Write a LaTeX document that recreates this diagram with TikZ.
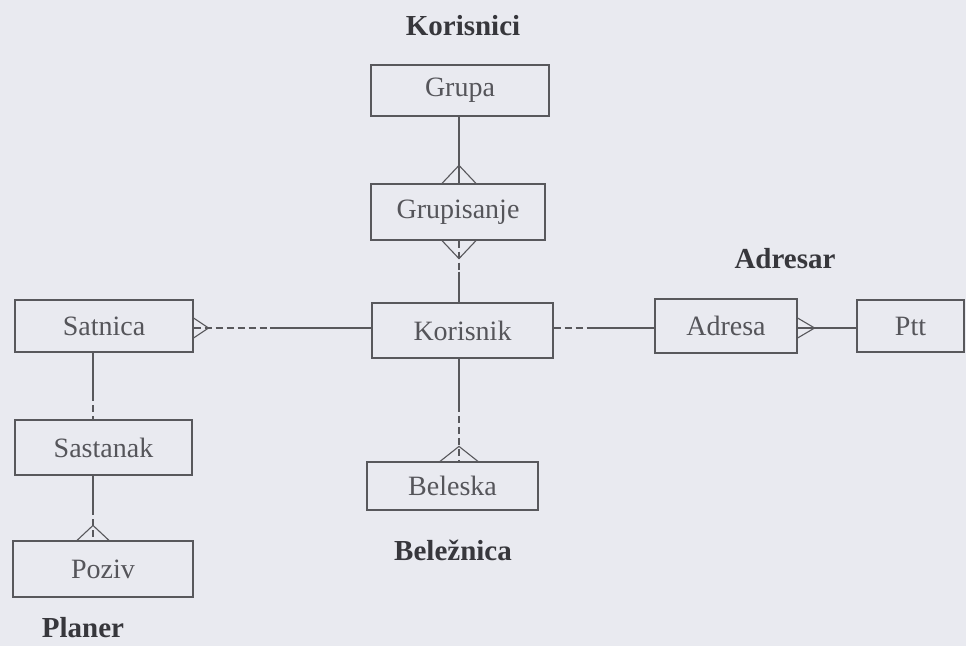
\documentclass[tikz,border=0pt]{standalone}
\usepackage{fontspec}
\setmainfont{Liberation Serif}
\usetikzlibrary{calc}
\definecolor{bg}{RGB}{233,234,240}
\definecolor{ink}{RGB}{88,88,92}
\definecolor{txt}{RGB}{85,85,90}
\definecolor{lbl}{RGB}{55,55,60}
\begin{document}
\begin{tikzpicture}[x=1pt,y=-1pt,
  entity/.style={draw=ink,line width=1.2pt,inner sep=0pt,text=txt,
    font=\fontsize{28}{32}\selectfont},
  grp/.style={text=lbl,font=\bfseries\fontsize{29}{33}\selectfont,anchor=base,inner sep=0pt},
  rel/.style={draw=ink,line width=1.1pt},
  reldash/.style={draw=ink,line width=1.1pt,dash pattern=on 7pt off 4pt}]
\fill[bg] (0,0) rectangle (966,646);
\useasboundingbox (0,0) rectangle (966,646);

% entities
\node[entity,minimum width=178pt,minimum height=51pt] (grupa) at (460,90.5) {Grupa};
\node[entity,minimum width=174pt,minimum height=56pt] (grupisanje) at (458,212) {Grupisanje};
\node[entity,minimum width=181pt,minimum height=55pt] (korisnik) at (462.5,330.5) {Korisnik};
\node[entity,minimum width=171pt,minimum height=48pt] (beleska) at (452.5,486) {Beleska};
\node[entity,minimum width=178pt,minimum height=52pt] (satnica) at (104,326) {Satnica};
\node[entity,minimum width=177pt,minimum height=55pt] (sastanak) at (103.5,447.5) {Sastanak};
\node[entity,minimum width=180pt,minimum height=56pt] (poziv) at (103,569) {Poziv};
\node[entity,minimum width=142pt,minimum height=54pt] (adresa) at (726,326) {Adresa};
\node[entity,minimum width=107pt,minimum height=52pt] (ptt) at (910.5,326) {Ptt};

% group labels
\node[grp] (lkorisnici) at (463,35) {Korisnici};
\node[grp] (ladresar) at (785,268) {Adresar};
\node[grp] (lbeleznica) at (453,560) {Beležnica};
\node[grp] (lplaner) at (83,637) {Planer};

% guide coordinates
\coordinate (vx1) at (459,0);
\coordinate (vx2) at (93,0);
\coordinate (hy) at (0,328);

% Grupa - Grupisanje
\draw[rel] (grupa.south -| vx1) -- (grupisanje.north -| vx1);
\draw[rel] ($(grupisanje.north -| vx1)+(-17,0)$) -- ++(17,-18) -- ++(17,18);

% Grupisanje - Korisnik
\coordinate (m1) at ($(grupisanje.south -| vx1)!0.5!(korisnik.north -| vx1)$);
\draw[reldash] (grupisanje.south -| vx1) -- (m1);
\draw[rel] (m1) -- (korisnik.north -| vx1);
\draw[rel] ($(grupisanje.south -| vx1)+(-17,0)$) -- ++(17,18) -- ++(17,-18);

% Korisnik - Beleska
\coordinate (m2) at ($(korisnik.south -| vx1)!0.45!(beleska.north -| vx1)$);
\draw[rel] (korisnik.south -| vx1) -- (m2);
\draw[reldash] (m2) -- (beleska.north -| vx1);
\draw[rel] ($(beleska.north -| vx1)+(-19,0)$) -- ++(19,-15) -- ++(19,15);

% Satnica - Korisnik
\coordinate (m3) at ($(satnica.east |- hy)!0.43!(korisnik.west |- hy)$);
\draw[reldash] (satnica.east |- hy) -- (m3);
\draw[rel] (m3) -- (korisnik.west |- hy);
\draw[rel] ($(satnica.east |- hy)+(0,-10)$) -- ++(15,10) -- ++(-15,10);

% Korisnik - Adresa
\coordinate (m4) at ($(korisnik.east |- hy)!0.4!(adresa.west |- hy)$);
\draw[reldash] (korisnik.east |- hy) -- (m4);
\draw[rel] (m4) -- (adresa.west |- hy);

% Adresa - Ptt
\draw[rel] (adresa.east |- hy) -- (ptt.west |- hy);
\draw[rel] ($(adresa.east |- hy)+(0,-10)$) -- ++(17,10) -- ++(-17,10);

% Satnica - Sastanak
\coordinate (m5) at ($(satnica.south -| vx2)!0.62!(sastanak.north -| vx2)$);
\draw[rel] (satnica.south -| vx2) -- (m5);
\draw[reldash] (m5) -- (sastanak.north -| vx2);

% Sastanak - Poziv
\coordinate (m6) at ($(sastanak.south -| vx2)!0.5!(poziv.north -| vx2)$);
\draw[rel] (sastanak.south -| vx2) -- (m6);
\draw[reldash] (m6) -- (poziv.north -| vx2);
\draw[rel] ($(poziv.north -| vx2)+(-16,0)$) -- ++(16,-15) -- ++(16,15);
\end{tikzpicture}
\end{document}
